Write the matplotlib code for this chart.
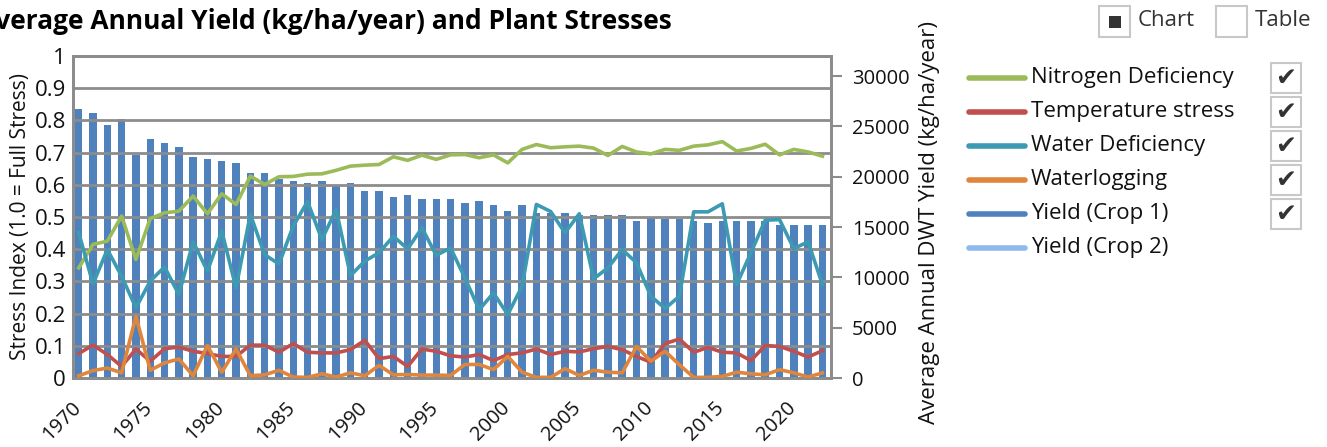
import matplotlib
matplotlib.use('Agg')
import matplotlib.pyplot as plt
import matplotlib.transforms as mtransforms
from matplotlib.lines import Line2D
from matplotlib.patches import Rectangle

plt.rcParams['font.family'] = ['Open Sans', 'DejaVu Sans']

years = list(range(1970, 2023))

yield_crop1 = [26730, 26365, 25140, 25736, 22164, 23752, 23355, 22958, 21965, 21767,
               21568, 21370, 20377, 20377, 19782, 19583, 19385, 19583, 19186, 19385,
               18591, 18591, 17995, 18194, 17797, 17797, 17797, 17400, 17598, 17201,
               16606, 17201, 16408, 16408, 16408, 16209, 16209, 16209, 16209, 15614,
               16011, 15812, 15812, 15614, 15415, 15614, 15614, 15614, 15614, 15217,
               15217, 15217, 15217]

nitrogen = [0.342, 0.415, 0.425, 0.503, 0.368, 0.495, 0.513, 0.518, 0.565, 0.510,
            0.572, 0.539, 0.627, 0.601, 0.625, 0.626, 0.633, 0.634, 0.645, 0.658,
            0.661, 0.663, 0.687, 0.676, 0.692, 0.679, 0.693, 0.694, 0.684, 0.693,
            0.668, 0.710, 0.725, 0.715, 0.718, 0.720, 0.714, 0.691, 0.719, 0.702,
            0.696, 0.710, 0.707, 0.720, 0.724, 0.734, 0.705, 0.713, 0.726, 0.693,
            0.710, 0.702, 0.689]

temperature = [0.076, 0.102, 0.073, 0.036, 0.090, 0.052, 0.091, 0.096, 0.083, 0.076,
               0.067, 0.067, 0.102, 0.102, 0.080, 0.107, 0.080, 0.078, 0.078, 0.088,
               0.117, 0.060, 0.067, 0.036, 0.090, 0.083, 0.069, 0.065, 0.073, 0.054,
               0.073, 0.078, 0.090, 0.073, 0.083, 0.081, 0.091, 0.098, 0.088, 0.067,
               0.049, 0.107, 0.121, 0.080, 0.095, 0.080, 0.078, 0.054, 0.101, 0.098,
               0.083, 0.065, 0.085]

water = [0.451, 0.292, 0.399, 0.316, 0.218, 0.301, 0.345, 0.259, 0.423, 0.332,
         0.456, 0.280, 0.508, 0.383, 0.354, 0.472, 0.548, 0.430, 0.523, 0.318,
         0.363, 0.389, 0.440, 0.401, 0.466, 0.381, 0.404, 0.311, 0.212, 0.264,
         0.197, 0.285, 0.539, 0.517, 0.451, 0.510, 0.308, 0.342, 0.399, 0.358,
         0.254, 0.216, 0.254, 0.516, 0.516, 0.541, 0.290, 0.389, 0.490, 0.492,
         0.402, 0.423, 0.290]

waterlogging = [0.007, 0.023, 0.031, 0.016, 0.192, 0.024, 0.047, 0.059, 0.007, 0.101,
                0.018, 0.090, 0.007, 0.010, 0.024, 0.003, 0.002, 0.013, 0.003, 0.016,
                0.007, 0.039, 0.010, 0.011, 0.009, 0.009, 0.008, 0.042, 0.042, 0.026,
                0.067, 0.018, 0.002, 0.002, 0.029, 0.008, 0.024, 0.018, 0.016, 0.098,
                0.052, 0.083, 0.041, 0.002, 0.002, 0.005, 0.018, 0.013, 0.010, 0.026,
                0.016, 0.003, 0.016]

year_ticks = [1970, 1975, 1980, 1985, 1990, 1995, 2000, 2005, 2010, 2015, 2020]
stress_ticks = [0, 0.1, 0.2, 0.3, 0.4, 0.5, 0.6, 0.7, 0.8, 0.9, 1]
stress_labels = ['0', '0.1', '0.2', '0.3', '0.4', '0.5', '0.6', '0.7', '0.8', '0.9', '1']
yield_ticks = [0, 5000, 10000, 15000, 20000, 25000, 30000]

legend_names = ['Nitrogen Deficiency', 'Temperature stress', 'Water Deficiency',
                'Waterlogging', 'Yield (Crop 1)', 'Yield (Crop 2)']
legend_colors = ['#9BBB59', '#C0504D', '#3C9AB2', '#E0863C', '#4F81BD', '#8DB9EE']
legend_checked = [True, True, True, True, True, False]

W, H = 1327, 447
grey = '#8C8C8C'
text_col = '#111111'


def fx(px):
    return px / W


def fy(py):
    return 1 - py / H


fig = plt.figure(figsize=(W / 100, H / 100), dpi=100)
ax = fig.add_axes([fx(73), fy(378), fx(831) - fx(73), fy(56) - fy(378)])

# bars (yield) on the bottom axes, right hand scale
ax.bar(years, yield_crop1, width=0.52, color='#4F81BD', zorder=2)
ax.set_ylim(0, 32000)
ax.set_xlim(1969.6, 2022.6)

# stress lines on top, left hand scale
ax2 = ax.twinx()
ax2.set_ylim(0, 1)
ax2.yaxis.tick_left()
ax2.set_yticks(stress_ticks)
ax2.set_yticklabels(stress_labels)
ax2.tick_params(axis='y', length=0, labelsize=16, labelcolor=text_col, pad=5)
ax2.grid(axis='y', color=grey, linewidth=2)
ax2.set_axisbelow(True)

ax.yaxis.tick_right()
ax.set_yticks(yield_ticks)
ax.set_yticklabels([str(v) for v in yield_ticks])
ax.tick_params(axis='y', length=8, width=1.5, color=grey, labelsize=14.5,
               labelcolor=text_col, pad=7)

series = [nitrogen, temperature, water, waterlogging]
for vals, col in zip(series, legend_colors[:4]):
    ax2.plot(years, vals, color=col, linewidth=2.6, solid_joinstyle='round', zorder=3)

ax.set_xticks(year_ticks)
ax.set_xticklabels([str(y) for y in year_ticks])
ax.tick_params(axis='x', length=0, labelsize=14.5, labelcolor=text_col, pad=0)
offset = mtransforms.ScaledTranslation(-8 / 100, -20 / 100, fig.dpi_scale_trans)
for lab in ax.get_xticklabels():
    lab.set_rotation(45)
    lab.set_ha('right')
    lab.set_va('top')
    lab.set_rotation_mode('anchor')
    lab.set_transform(lab.get_transform() + offset)

for a in (ax, ax2):
    for sp in a.spines.values():
        sp.set_color(grey)
        sp.set_linewidth(2)

# titles
fig.text(fx(672), fy(29), 'Average Annual Yield (kg/ha/year) and Plant Stresses',
         ha='right', va='baseline', fontsize=19, fontweight='bold', color='#000000')
fig.text(fx(21), fy(217), 'Stress Index (1.0 = Full Stress)', rotation=90,
         ha='center', va='center', fontsize=15, color=text_col)
fig.text(fx(930), fy(222), 'Average Annual DWT Yield (kg/ha/year)', rotation=90,
         ha='center', va='center', fontsize=16, color=text_col)

# legend with checkboxes
for i, (name, col, chk) in enumerate(zip(legend_names, legend_colors, legend_checked)):
    yc = 78 + i * 34
    fig.add_artist(Line2D([fx(969), fx(1025)], [fy(yc), fy(yc)], color=col,
                          linewidth=4, solid_capstyle='round', transform=fig.transFigure))
    fig.text(fx(1031), fy(yc), name, ha='left', va='center', fontsize=16,
             color=text_col)
    if chk:
        fig.add_artist(Rectangle((fx(1271), fy(yc + 15)), fx(30), 30 / H,
                                 facecolor='white', edgecolor='#C8C8C8', linewidth=1.5,
                                 transform=fig.transFigure))
        fig.text(fx(1286), fy(yc), '\u2714', ha='center', va='center', fontsize=18,
                 color='#333333', family='DejaVu Sans')

# chart / table toggle
fig.add_artist(Rectangle((fx(1099), fy(37)), fx(31), 31 / H, facecolor='white',
                         edgecolor='#C8C8C8', linewidth=1.5, transform=fig.transFigure))
fig.add_artist(Rectangle((fx(1109), fy(27.5)), fx(12), 12 / H, facecolor='#333333',
                         edgecolor='none', transform=fig.transFigure))
fig.text(fx(1138), fy(21), 'Chart', ha='left', va='center', fontsize=16, color='#333333')
fig.add_artist(Rectangle((fx(1216), fy(37)), fx(31), 31 / H, facecolor='white',
                         edgecolor='#C8C8C8', linewidth=1.5, transform=fig.transFigure))
fig.text(fx(1255), fy(21), 'Table', ha='left', va='center', fontsize=16, color='#333333')

fig.savefig('out.png', dpi=100)
